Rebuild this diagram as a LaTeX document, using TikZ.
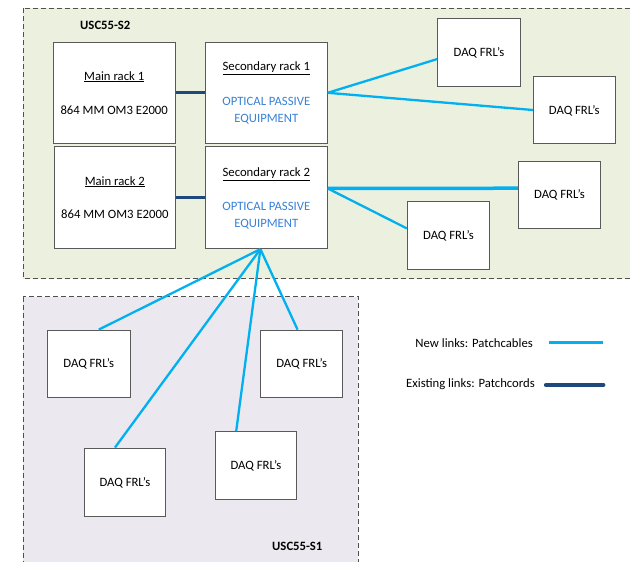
\documentclass[tikz,border=0pt]{standalone}
\usepackage{fontspec}
\setmainfont{Carlito}
\usetikzlibrary{calc}
\definecolor{zonegreen}{HTML}{EBF1DE}
\definecolor{zonelilac}{HTML}{EBE8EF}
\definecolor{newlink}{HTML}{00B0F0}
\definecolor{oldlink}{HTML}{1F497D}
\definecolor{bluetxt}{HTML}{3A82D6}
\definecolor{edgegray}{HTML}{595959}
\definecolor{dashgray}{HTML}{505050}
\tikzset{
  zone/.style={draw=dashgray, line width=0.8pt, dash pattern=on 5pt off 3pt},
  box/.style={draw=edgegray, line width=0.9pt, fill=white, inner sep=0pt},
  lbl/.style={inner sep=0pt, text height=8.2pt, text depth=0pt, anchor=center, font=\fontsize{12.7}{15}\selectfont},
  zonelbl/.style={lbl, font=\fontsize{12.7}{15}\selectfont\bfseries},
  newl/.style={draw=newlink, line width=2.3pt},
  newlthick/.style={draw=newlink, line width=3.5pt},
  oldl/.style={draw=oldlink, line width=3.3pt},
}
\begin{document}
\begin{tikzpicture}[x=1pt,y=-1pt]
\useasboundingbox (0,0) rectangle (630,562);
\clip (0,0) rectangle (630,562);
% zones
\path[zone, fill=zonegreen] (23.3,8.3) rectangle (640,278.7);
\path[zone, fill=zonelilac] (22.9,296.7) rectangle (358,575);
\node[zonelbl, anchor=west] (s2lbl) at (80,25.7) {USC55-S2};
\node[zonelbl, anchor=west] (s1lbl) at (272,546.7) {USC55-S1};
% racks
\node[box, minimum width=121.7pt, minimum height=101pt] (main1) at (114.2,92.8) {};
\node[box, minimum width=121.7pt, minimum height=102pt] (main2) at (114.8,197.7) {};
\node[box, minimum width=122pt, minimum height=101pt] (sec1) at (266.3,92.8) {};
\node[box, minimum width=122pt, minimum height=102pt] (sec2) at (266.3,197.7) {};
\node[lbl] (m1a) at (114.2,76) {\underline{Main rack 1}};
\node[lbl] (m1b) at (114.2,110) {864 MM OM3 E2000};
\node[lbl] (m2a) at (114.8,181) {\underline{Main rack 2}};
\node[lbl] (m2b) at (114.8,214.3) {864 MM OM3 E2000};
\node[lbl] (s1a) at (266.3,66.7) {\underline{Secondary rack 1}};
\node[lbl, text=bluetxt] (s1b) at (266.3,101.7) {OPTICAL PASSIVE};
\node[lbl, text=bluetxt] (s1c) at (266.3,118.3) {EQUIPMENT};
\node[lbl] (s2a) at (266.3,172.3) {\underline{Secondary rack 2}};
\node[lbl, text=bluetxt] (s2b) at (266.3,206.7) {OPTICAL PASSIVE};
\node[lbl, text=bluetxt] (s2c) at (266.3,223.3) {EQUIPMENT};
% DAQ boxes
\tikzset{daq/.style={box, lbl, inner sep=0pt, text height=8.2pt, text depth=0pt}}
\node[daq, minimum width=82.6pt, minimum height=67.7pt] (daq1) at (479,52.2) {DAQ FRL’s};
\node[daq, minimum width=82pt, minimum height=67.4pt] (daq2) at (574.3,110) {DAQ FRL’s};
\node[daq, minimum width=82.4pt, minimum height=67.3pt] (daq3) at (559.5,194.7) {DAQ FRL’s};
\node[daq, minimum width=82.4pt, minimum height=68pt] (daq4) at (448.5,235.3) {DAQ FRL’s};
\node[daq, minimum width=82.5pt, minimum height=67.3pt] (daq5) at (88.8,363.7) {DAQ FRL’s};
\node[daq, minimum width=81.7pt, minimum height=68pt] (daq6) at (124.9,482) {DAQ FRL’s};
\node[daq, minimum width=81.7pt, minimum height=67.3pt] (daq7) at (256,465.4) {DAQ FRL’s};
\node[daq, minimum width=82pt, minimum height=67.3pt] (daq8) at (301.7,363.7) {DAQ FRL’s};
% connection points
\coordinate (s2r) at ($(sec2.north east)!0.41!(sec2.south east)$);
\coordinate (s2b) at ($(sec2.south west)!0.452!(sec2.south east)$);
\coordinate (d1p) at ($(daq1.north west)!0.6!(daq1.south west)$);
\coordinate (d3p) at ($(daq3.north west)!0.405!(daq3.south west)$);
\coordinate (d4p) at ($(daq4.north west)!0.4!(daq4.south west)$);
\coordinate (d5p) at ($(daq5.north west)!0.62!(daq5.north east)$);
\coordinate (d6p) at ($(daq6.north west)!0.38!(daq6.north east)$);
\coordinate (d7p) at ($(daq7.north west)!0.26!(daq7.north east)$);
\coordinate (d8p) at ($(daq8.north west)!0.45!(daq8.north east)$);
% existing links
\draw[oldl] (main1.east) -- (sec1.west);
\draw[oldl] (main2.east) -- (sec2.west);
% new links
\draw[newl] (sec1.east) -- (d1p);
\draw[newl] (sec1.east) -- (daq2.west);
\draw[newlthick] (s2r) -- (d3p);
\draw[newl] (s2r) -- (d4p);
\draw[newl] (s2b) -- (d5p);
\draw[newl] (s2b) -- (d6p);
\draw[newl] (s2b) -- (d7p);
\draw[newl] (s2b) -- (d8p);
% legend
\node[lbl, anchor=east] (leg1) at (533,343.3) {New links: Patchcables};
\node[lbl, anchor=east] (leg2) at (535,383.3) {Existing links: Patchcords};
\coordinate (l1a) at (549,342.3);
\coordinate (l1b) at (603.4,342.3);
\coordinate (l2a) at (545.9,385);
\coordinate (l2b) at (603.4,385);
\draw[newl, line width=2.7pt] (l1a) -- (l1b);
\draw[oldl, line width=4pt, line cap=round] (l2a) -- (l2b);
\end{tikzpicture}
\end{document}
